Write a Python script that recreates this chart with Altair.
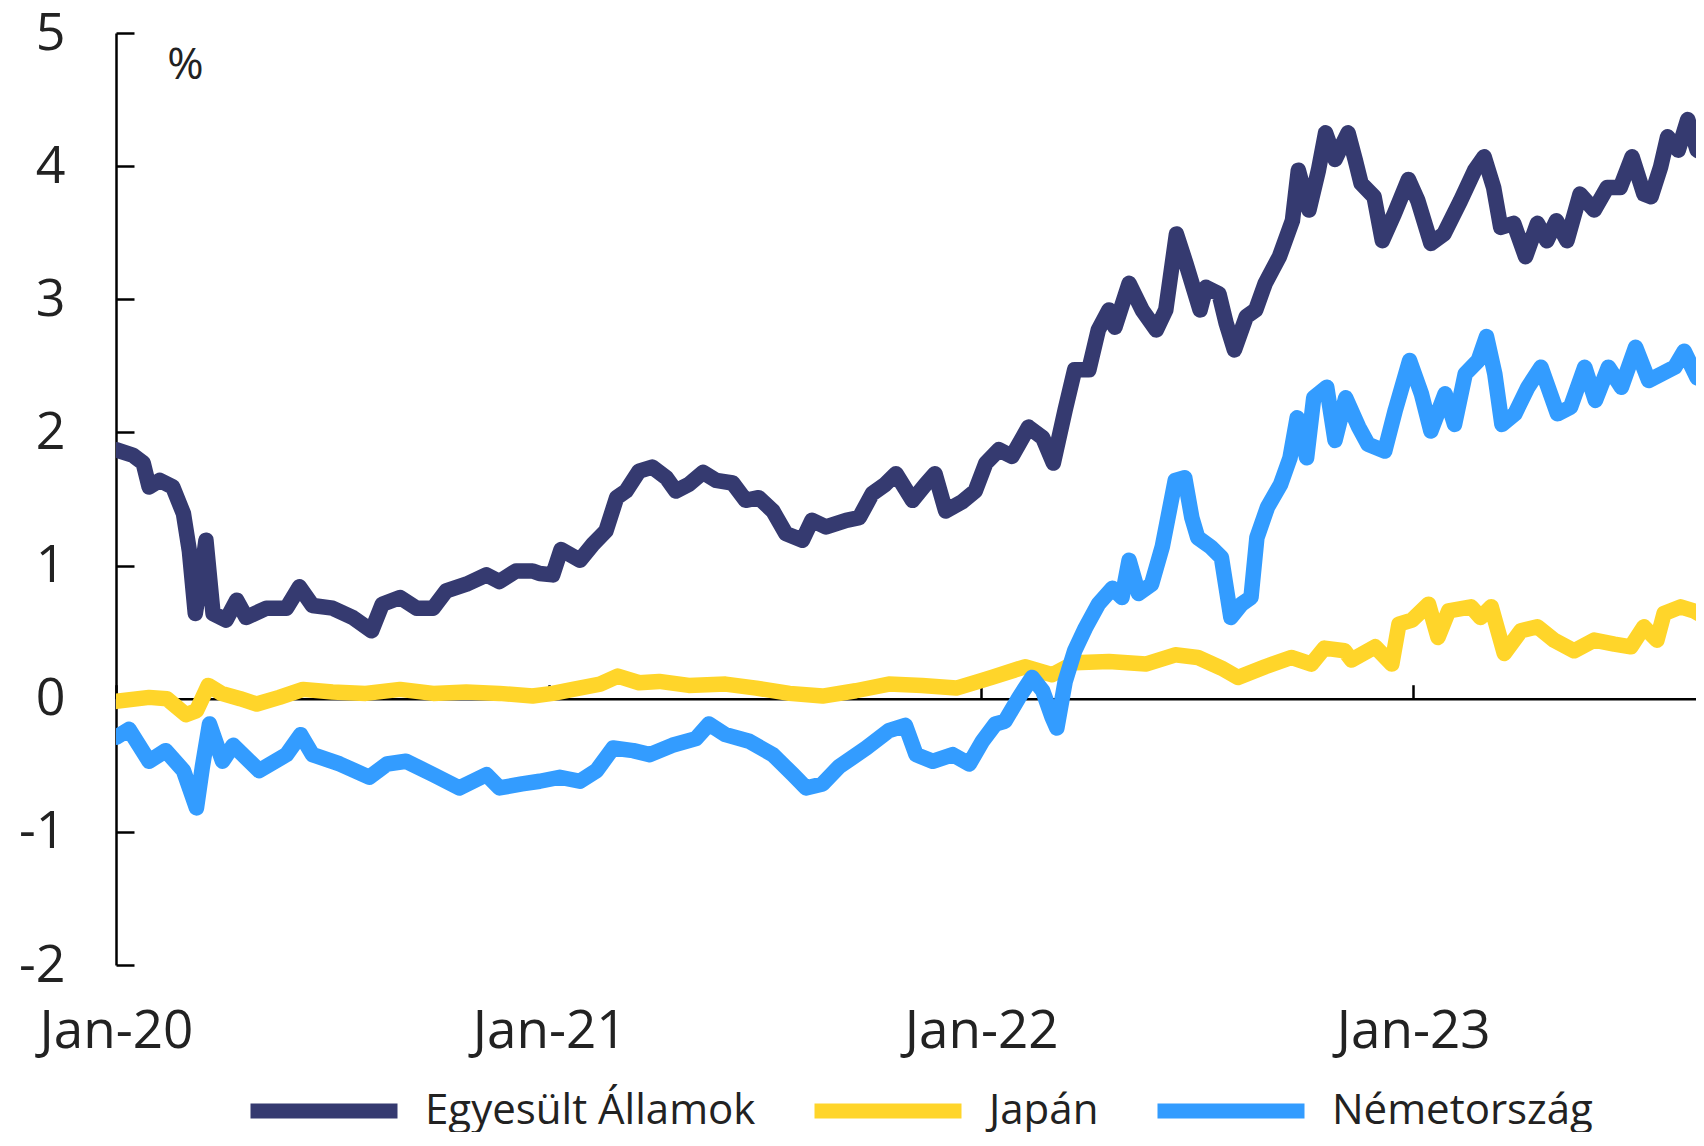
import altair as alt
import pandas as pd

SERIES = ["Egyesült Államok", "Japán", "Németország"]
COLORS = ["#353A70", "#FFD52A", "#339CFF"]
X_TICKS = ["2020", "2021", "2022", "2023"]
Y_TICKS = [-2, -1, 0, 1, 2, 3, 4, 5]

us_dates = [
    "2020-01-01", "2020-01-15", "2020-01-24", "2020-01-29", "2020-02-07", "2020-02-18",
    "2020-02-27", "2020-03-03", "2020-03-08", "2020-03-12", "2020-03-17", "2020-03-23",
    "2020-04-03", "2020-04-12", "2020-04-20", "2020-05-07", "2020-05-24", "2020-06-04",
    "2020-06-15", "2020-07-02", "2020-07-19", "2020-08-04", "2020-08-13", "2020-08-28",
    "2020-09-11", "2020-09-25", "2020-10-06", "2020-10-23", "2020-11-09", "2020-11-20",
    "2020-12-04", "2020-12-18", "2020-12-24", "2021-01-04", "2021-01-11", "2021-01-27",
    "2021-02-07", "2021-02-18", "2021-02-27", "2021-03-07", "2021-03-18", "2021-03-29",
    "2021-04-10", "2021-04-18", "2021-04-29", "2021-05-11", "2021-05-22", "2021-06-05",
    "2021-06-16", "2021-06-27", "2021-07-09", "2021-07-20", "2021-08-03", "2021-08-11",
    "2021-08-23", "2021-09-09", "2021-09-20", "2021-10-01", "2021-10-12", "2021-10-21",
    "2021-11-04", "2021-11-15", "2021-11-23", "2021-12-02", "2021-12-16", "2021-12-27",
    "2022-01-05", "2022-01-16", "2022-01-27", "2022-02-10", "2022-02-22", "2022-03-03",
    "2022-03-13", "2022-03-21", "2022-04-02", "2022-04-10", "2022-04-19", "2022-04-24",
    "2022-05-06", "2022-05-17", "2022-05-29", "2022-06-06", "2022-06-15", "2022-06-23",
    "2022-07-05", "2022-07-10", "2022-07-21", "2022-07-27", "2022-08-03", "2022-08-13",
    "2022-08-21", "2022-08-29", "2022-09-10", "2022-09-21", "2022-09-26", "2022-10-05",
    "2022-10-13", "2022-10-19", "2022-10-27", "2022-11-07", "2022-11-13", "2022-11-18",
    "2022-11-29", "2022-12-06", "2022-12-16", "2022-12-28", "2023-01-05", "2023-01-16",
    "2023-01-27", "2023-02-10", "2023-02-22", "2023-03-02", "2023-03-10", "2023-03-16",
    "2023-03-27", "2023-04-06", "2023-04-16", "2023-04-24", "2023-05-02", "2023-05-11",
    "2023-05-22", "2023-06-03", "2023-06-14", "2023-06-25", "2023-07-05", "2023-07-15",
    "2023-07-21", "2023-07-29", "2023-08-04", "2023-08-13", "2023-08-21", "2023-08-29",
    "2023-09-03",
]
us_vals = [
    1.87, 1.83, 1.77, 1.59, 1.64, 1.59,
    1.39, 1.11, 0.64, 0.86, 1.19, 0.64,
    0.59, 0.74, 0.61, 0.68, 0.68, 0.84,
    0.70, 0.68, 0.61, 0.51, 0.71, 0.76,
    0.68, 0.68, 0.81, 0.86, 0.93, 0.88,
    0.96, 0.96, 0.94, 0.93, 1.12, 1.04,
    1.16, 1.26, 1.51, 1.56, 1.71, 1.74,
    1.66, 1.56, 1.61, 1.70, 1.64, 1.62,
    1.49, 1.51, 1.41, 1.24, 1.19, 1.34,
    1.29, 1.34, 1.36, 1.54, 1.61, 1.69,
    1.49, 1.61, 1.69, 1.41, 1.48, 1.56,
    1.77, 1.87, 1.82, 2.04, 1.96, 1.77,
    2.17, 2.47, 2.47, 2.77, 2.92, 2.79,
    3.12, 2.92, 2.77, 2.92, 3.49, 3.27,
    2.92, 3.09, 3.04, 2.82, 2.62, 2.87,
    2.92, 3.12, 3.32, 3.59, 3.97, 3.67,
    3.97, 4.25, 4.05, 4.25, 4.05, 3.87,
    3.77, 3.44, 3.64, 3.90, 3.74, 3.42,
    3.49, 3.74, 3.97, 4.07, 3.84, 3.54,
    3.57, 3.32, 3.57, 3.44, 3.59, 3.44,
    3.79, 3.67, 3.84, 3.84, 4.07, 3.79,
    3.77, 3.99, 4.22, 4.12, 4.35, 4.12,
    4.10,
]

jp_dates = [
    "2020-01-01", "2020-01-29", "2020-02-13", "2020-02-29", "2020-03-09", "2020-03-19",
    "2020-03-30", "2020-04-15", "2020-04-29", "2020-05-18", "2020-06-07", "2020-07-02",
    "2020-07-30", "2020-08-28", "2020-09-25", "2020-10-23", "2020-11-20", "2020-12-18",
    "2021-01-04", "2021-01-21", "2021-02-13", "2021-02-28", "2021-03-18", "2021-04-04",
    "2021-04-29", "2021-05-30", "2021-06-25", "2021-07-23", "2021-08-20", "2021-09-17",
    "2021-10-15", "2021-11-12", "2021-12-11", "2021-12-30", "2022-01-10", "2022-02-07",
    "2022-03-02", "2022-03-21", "2022-04-19", "2022-05-20", "2022-06-14", "2022-07-03",
    "2022-07-23", "2022-08-06", "2022-08-29", "2022-09-20", "2022-10-07", "2022-10-18",
    "2022-11-04", "2022-11-10", "2022-11-30", "2022-12-14", "2022-12-20", "2022-12-31",
    "2023-01-14", "2023-01-22", "2023-01-31", "2023-02-19", "2023-02-27", "2023-03-08",
    "2023-03-19", "2023-04-02", "2023-04-16", "2023-04-30", "2023-05-17", "2023-06-03",
    "2023-06-20", "2023-07-04", "2023-07-15", "2023-07-26", "2023-08-01", "2023-08-15",
    "2023-08-26", "2023-09-03",
]
jp_vals = [
    -0.02, 0.01, 0.00, -0.12, -0.09, 0.10,
    0.04, 0.00, -0.04, 0.01, 0.07, 0.05,
    0.04, 0.07, 0.04, 0.05, 0.04, 0.02,
    0.04, 0.07, 0.11, 0.17, 0.12, 0.13,
    0.10, 0.11, 0.08, 0.04, 0.02, 0.06,
    0.11, 0.10, 0.08, 0.13, 0.16, 0.24,
    0.18, 0.27, 0.28, 0.26, 0.33, 0.31,
    0.23, 0.16, 0.24, 0.31, 0.26, 0.38,
    0.36, 0.29, 0.39, 0.26, 0.56, 0.59,
    0.71, 0.46, 0.66, 0.69, 0.61, 0.69,
    0.34, 0.51, 0.54, 0.44, 0.36, 0.44,
    0.41, 0.39, 0.54, 0.44, 0.64, 0.69,
    0.66, 0.62,
]

de_dates = [
    "2020-01-01", "2020-01-12", "2020-01-29", "2020-02-12", "2020-02-27", "2020-03-09",
    "2020-03-14", "2020-03-20", "2020-03-31", "2020-04-09", "2020-05-01", "2020-05-24",
    "2020-06-05", "2020-06-15", "2020-07-08", "2020-08-02", "2020-08-17", "2020-09-02",
    "2020-09-25", "2020-10-17", "2020-11-09", "2020-11-20", "2020-12-09", "2020-12-24",
    "2021-01-10", "2021-01-27", "2021-02-10", "2021-02-24", "2021-03-13", "2021-03-27",
    "2021-04-15", "2021-05-05", "2021-05-16", "2021-05-30", "2021-06-19", "2021-07-09",
    "2021-07-26", "2021-08-06", "2021-08-20", "2021-09-03", "2021-09-26", "2021-10-15",
    "2021-10-29", "2021-11-07", "2021-11-21", "2021-12-08", "2021-12-22", "2022-01-02",
    "2022-01-13", "2022-01-21", "2022-02-02", "2022-02-13", "2022-02-22", "2022-03-02",
    "2022-03-06", "2022-03-13", "2022-03-21", "2022-03-30", "2022-04-10", "2022-04-22",
    "2022-04-30", "2022-05-06", "2022-05-14", "2022-05-25", "2022-06-03", "2022-06-14",
    "2022-06-22", "2022-06-28", "2022-07-03", "2022-07-14", "2022-07-23", "2022-07-31",
    "2022-08-09", "2022-08-17", "2022-08-22", "2022-08-31", "2022-09-11", "2022-09-19",
    "2022-09-25", "2022-10-03", "2022-10-09", "2022-10-20", "2022-10-27", "2022-11-05",
    "2022-11-16", "2022-11-24", "2022-12-08", "2022-12-17", "2022-12-29", "2023-01-08",
    "2023-01-16", "2023-01-28", "2023-02-05", "2023-02-14", "2023-02-25", "2023-03-04",
    "2023-03-11", "2023-03-17", "2023-03-28", "2023-04-08", "2023-04-19", "2023-05-03",
    "2023-05-14", "2023-05-26", "2023-06-04", "2023-06-15", "2023-06-26", "2023-07-08",
    "2023-07-19", "2023-07-30", "2023-08-10", "2023-08-18", "2023-08-29", "2023-09-03",
]
de_vals = [
    -0.29, -0.23, -0.47, -0.39, -0.54, -0.82,
    -0.51, -0.19, -0.47, -0.35, -0.54, -0.42,
    -0.27, -0.42, -0.49, -0.59, -0.49, -0.47,
    -0.57, -0.67, -0.57, -0.67, -0.64, -0.62,
    -0.59, -0.62, -0.54, -0.37, -0.39, -0.42,
    -0.35, -0.30, -0.19, -0.27, -0.32, -0.42,
    -0.57, -0.67, -0.64, -0.51, -0.37, -0.24,
    -0.20, -0.42, -0.47, -0.42, -0.49, -0.32,
    -0.19, -0.17, 0.01, 0.16, 0.06, -0.14,
    -0.22, 0.13, 0.36, 0.53, 0.71, 0.83,
    0.76, 1.04, 0.79, 0.86, 1.14, 1.64,
    1.66, 1.36, 1.21, 1.14, 1.06, 0.61,
    0.71, 0.76, 1.21, 1.44, 1.61, 1.81,
    2.11, 1.81, 2.26, 2.34, 1.94, 2.26,
    2.04, 1.91, 1.86, 2.17, 2.54, 2.29,
    2.01, 2.29, 2.06, 2.44, 2.54, 2.72,
    2.44, 2.06, 2.14, 2.34, 2.49, 2.14,
    2.19, 2.49, 2.24, 2.49, 2.34, 2.64,
    2.39, 2.44, 2.49, 2.61, 2.41, 2.40,
]

frames = []
for name, d, v in [(SERIES[0], us_dates, us_vals), (SERIES[1], jp_dates, jp_vals), (SERIES[2], de_dates, de_vals)]:
    frames.append(pd.DataFrame({"date": d, "value": v, "series": name}))
df = pd.concat(frames, ignore_index=True)

PLOT_W = 1580
PLOT_H = 932
FONT = "Open Sans"

def dt(y, m=1, d=1):
    return alt.DateTime(year=y, month=m, date=d, utc=True)

x_scale = alt.Scale(type="utc", domain=[dt(2020), dt(2023, 8, 28)])
y_scale = alt.Scale(domain=[-2, 5], nice=False, zero=False)
x_vals = [dt(int(t)) for t in X_TICKS]

lines = alt.Chart(df).mark_line(strokeWidth=15.5, strokeJoin="round", strokeCap="round", clip=True).encode(
    x=alt.X("date:T", scale=x_scale, axis=alt.Axis(
        orient="bottom", values=x_vals, domain=False, ticks=False, grid=False,
        labelExpr="utcFormat(datum.value, '%b-%y')", labelFont=FONT, labelFontSize=53,
        labelColor="#222222", labelPadding=40, labelFlush=False, labelOverlap=False, title=None)),
    y=alt.Y("value:Q", scale=y_scale, axis=alt.Axis(
        orient="left", values=Y_TICKS, domain=False, ticks=False, grid=False,
        labelExpr="toString(datum.value)",
        labelFont=FONT, labelFontSize=52, labelColor="#222222", labelPadding=51,
        title="%", titleAngle=0, titleX=69, titleY=32, titleFont=FONT, titleFontSize=44,
        titleFontWeight="normal", titleColor="#222222", titleAlign="center", titleBaseline="middle")),
    color=alt.Color("series:N", scale=alt.Scale(domain=SERIES, range=COLORS), legend=alt.Legend(
        orient="none", legendX=127, legendY=997, direction="horizontal", title=None,
        symbolType="stroke", symbolStrokeWidth=15, symbolSize=21609,
        labelFont=FONT, labelFontSize=42, labelColor="#222222", labelOffset=20,
        labelLimit=0, columnPadding=28)),
    detail="series:N",
)

axes = alt.Chart(df).mark_line(opacity=0).encode(
    x=alt.X("date:T", scale=x_scale, axis=alt.Axis(
        orient="top", offset=-PLOT_H * 5 / 7, values=x_vals, domain=True, domainColor="#000000",
        domainWidth=2.5, ticks=True, tickSize=14, tickColor="#000000", tickWidth=2.5,
        labels=False, grid=False, title=None)),
    y=alt.Y("value:Q", scale=y_scale, axis=alt.Axis(
        orient="right", offset=-PLOT_W, values=Y_TICKS, domain=True, domainColor="#000000",
        domainWidth=2.5, ticks=True, tickSize=18, tickColor="#000000", tickWidth=2.5,
        labels=False, grid=False, title=None)),
    detail="series:N",
)

chart = alt.layer(lines, axes).resolve_axis(x="independent", y="independent").properties(
    width=PLOT_W, height=PLOT_H,
    autosize=alt.AutoSizeParams(type="none"),
    padding={"left": 108, "top": 25, "right": 0, "bottom": 167},
).configure_view(stroke=None)

chart.save("out.html", embed_options={"renderer": "svg", "actions": False})
